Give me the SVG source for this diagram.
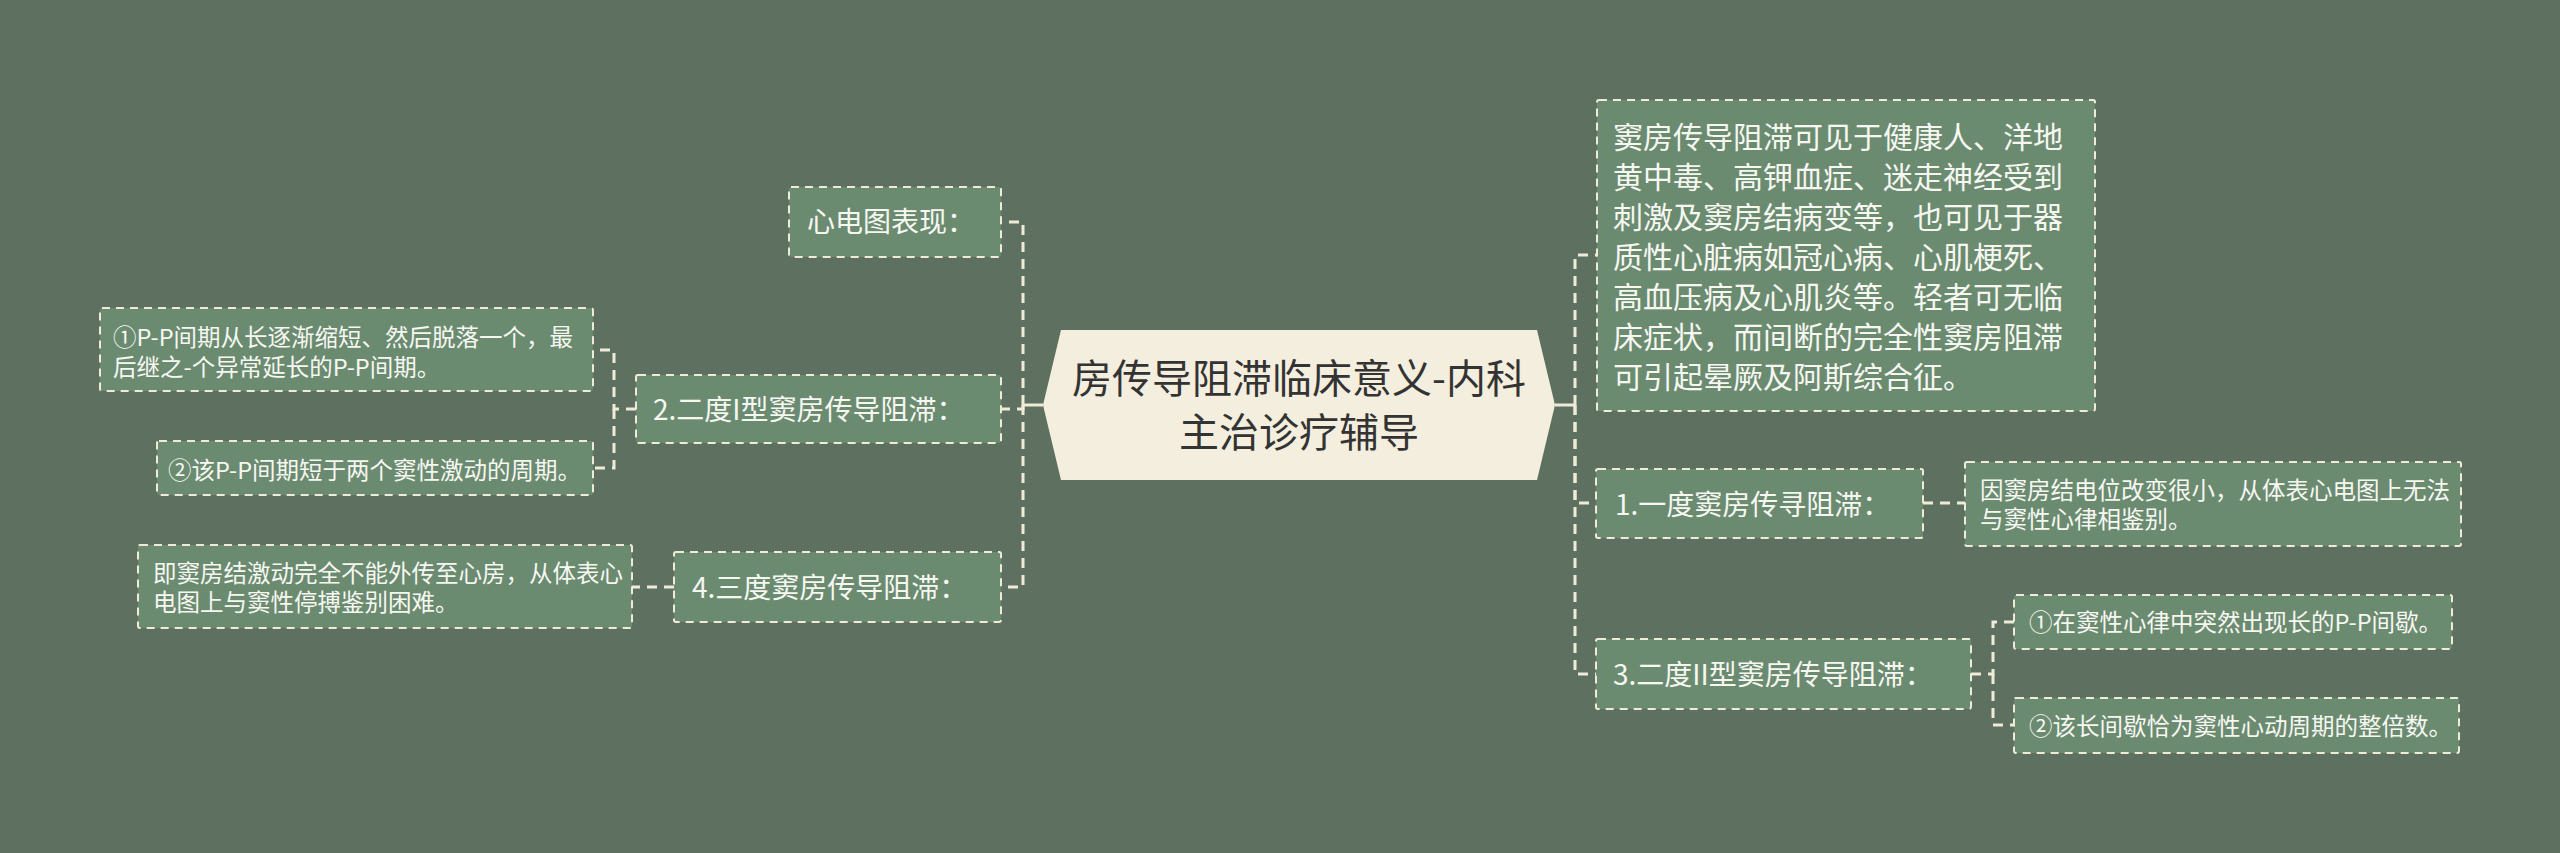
<svg xmlns="http://www.w3.org/2000/svg" width="2560" height="853" viewBox="0 0 2560 853">
<style>
.bg{fill:#5e7060}
.box{fill:#6b8b71;stroke:#f0ebd9;stroke-width:2;stroke-dasharray:8 6}
.t{font-family:"Microsoft YaHei","Noto Sans CJK SC","Noto Sans",sans-serif;fill:#f7f7f2}
.l1{font-size:28px}
.big{font-size:30px}
.lf{font-size:23.5px}
.root{fill:#f3eedd}
.rt{font-family:"Microsoft YaHei","Noto Sans CJK SC","Noto Sans",sans-serif;font-size:40px;fill:#333333;text-anchor:middle}
.c{fill:none;stroke:#f0ebd9;stroke-width:3;stroke-dasharray:10 7}
.cs{fill:none;stroke:#f0ebd9;stroke-width:3}
</style>
<rect class="bg" x="0" y="0" width="2560" height="853"/>
<g id="connectors">
<path class="cs" d="M1043,405 H1023"/>
<path class="cs" d="M1555,405 H1575"/>
<path class="c" d="M1023,405 V222 H1001"/>
<path class="c" d="M1023,405 V409 H1001"/>
<path class="c" d="M1023,405 V587 H1001"/>
<path class="c" d="M636,409 H614 V350 H593"/>
<path class="c" d="M614,409 V468 H593"/>
<path class="c" d="M674,587 H632"/>
<path class="c" d="M1575,405 V255 H1597"/>
<path class="c" d="M1575,405 V503 H1596"/>
<path class="c" d="M1575,405 V674 H1596"/>
<path class="c" d="M1923,503 H1965"/>
<path class="c" d="M1971,674 H1993 V622 H2014"/>
<path class="c" d="M1993,674 V725 H2014"/>
</g>
<g id="root">
<polygon class="root" points="1043,405 1061,330 1537,330 1555,405 1537,480 1061,480"/>
<text class="rt" x="1299" y="393">房传导阻滞临床意义-内科</text>
<text class="rt" x="1299" y="447">主治诊疗辅导</text>
</g>
<g id="n-xindiantu">
<rect class="box" x="789" y="187" width="212" height="70" rx="2"/>
<text class="t l1" x="807" y="232">心电图表现：</text>
</g>
<g id="n-erdu1">
<rect class="box" x="636" y="375" width="365" height="68" rx="2"/>
<text class="t l1" x="653" y="420">2.二度I型窦房传导阻滞：</text>
</g>
<g id="n-erdu1-a">
<rect class="box" x="100" y="308" width="493" height="83" rx="2"/>
<text class="t lf" x="113" y="346">①P-P间期从长逐渐缩短、然后脱落一个，最</text>
<text class="t lf" x="113" y="376">后继之-个异常延长的P-P间期。</text>
</g>
<g id="n-erdu1-b">
<rect class="box" x="157" y="441" width="436" height="54" rx="2"/>
<text class="t lf" x="168" y="479">②该P-P间期短于两个窦性激动的周期。</text>
</g>
<g id="n-sandu">
<rect class="box" x="674" y="552" width="327" height="70" rx="2"/>
<text class="t l1" x="692" y="598">4.三度窦房传导阻滞：</text>
</g>
<g id="n-sandu-a">
<rect class="box" x="138" y="545" width="494" height="83" rx="2"/>
<text class="t lf" x="153" y="582">即窦房结激动完全不能外传至心房，从体表心</text>
<text class="t lf" x="153" y="611">电图上与窦性停搏鉴别困难。</text>
</g>
<g id="n-intro">
<rect class="box" x="1597" y="100" width="498" height="311" rx="2"/>
<text class="t big" x="1613" y="148">窦房传导阻滞可见于健康人、洋地</text>
<text class="t big" x="1613" y="188">黄中毒、高钾血症、迷走神经受到</text>
<text class="t big" x="1613" y="228">刺激及窦房结病变等，也可见于器</text>
<text class="t big" x="1613" y="268">质性心脏病如冠心病、心肌梗死、</text>
<text class="t big" x="1613" y="308">高血压病及心肌炎等。轻者可无临</text>
<text class="t big" x="1613" y="348">床症状，而间断的完全性窦房阻滞</text>
<text class="t big" x="1613" y="388">可引起晕厥及阿斯综合征。</text>
</g>
<g id="n-yidu">
<rect class="box" x="1596" y="469" width="327" height="69" rx="2"/>
<text class="t l1" x="1615" y="515">1.一度窦房传寻阻滞：</text>
</g>
<g id="n-yidu-a">
<rect class="box" x="1965" y="462" width="496" height="84" rx="2"/>
<text class="t lf" x="1980" y="499">因窦房结电位改变很小，从体表心电图上无法</text>
<text class="t lf" x="1980" y="528">与窦性心律相鉴别。</text>
</g>
<g id="n-erdu2">
<rect class="box" x="1596" y="639" width="375" height="70" rx="2"/>
<text class="t l1" x="1613" y="685">3.二度II型窦房传导阻滞：</text>
</g>
<g id="n-erdu2-a">
<rect class="box" x="2014" y="595" width="438" height="54" rx="2"/>
<text class="t lf" x="2029" y="631">①在窦性心律中突然出现长的P-P间歇。</text>
</g>
<g id="n-erdu2-b">
<rect class="box" x="2014" y="698" width="445" height="55" rx="2"/>
<text class="t lf" x="2029" y="735">②该长间歇恰为窦性心动周期的整倍数。</text>
</g>
</svg>
